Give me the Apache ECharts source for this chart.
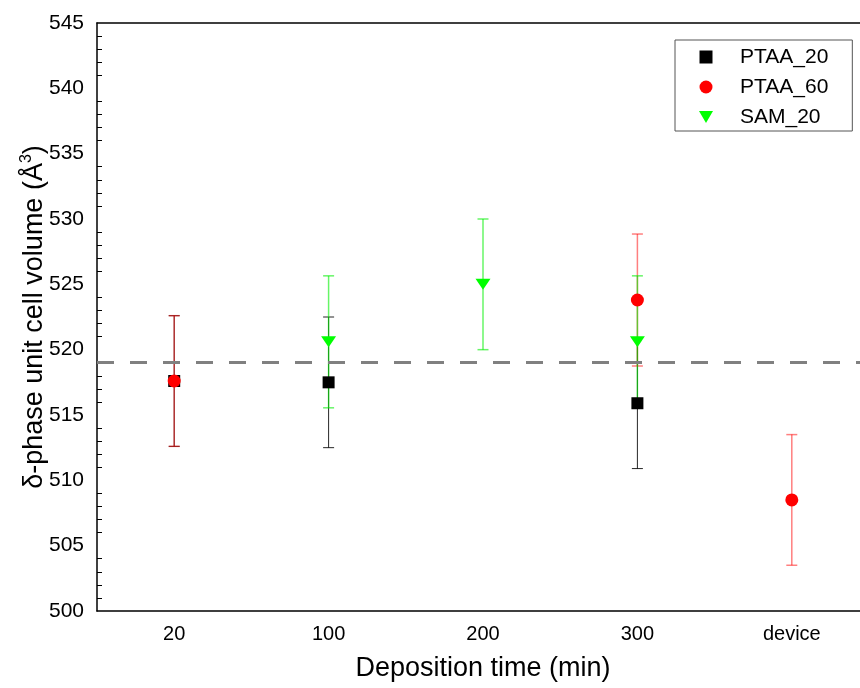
<!DOCTYPE html>
<html>
<head>
<meta charset="utf-8">
<script src="https://cdn.jsdelivr.net/npm/echarts@6/dist/echarts.min.js"></script>
<style>
  html, body { margin: 0; padding: 0; background: #fff; overflow: hidden; }
  #main { width: 880px; height: 688px; }
</style>
</head>
<body>
<div id="main"></div>
<script>
// categories on the x axis
var categories = ['20', '100', '200', '300', 'device'];

// [category, value, error]
var ptaa20 = [['20', 517.6, 5.0], ['100', 517.5, 5.0], ['300', 515.9, 5.0]];
var ptaa60 = [['20', 517.6, 5.0], ['300', 523.8, 5.05], ['device', 508.5, 5.0]];
var sam20 = [['100', 520.6, 5.05], ['200', 525.0, 5.0], ['300', 520.6, 5.05]];

var refLine = 519;

var font = "Arial, 'Liberation Sans', sans-serif";
var square = 'path://M0,0 L10,0 L10,10 L0,10 Z';
var triDown = 'path://M0,0 L20,0 L10,17 Z';

function errBars(data, color, width, opacity) {
  return {
    type: 'custom',
    silent: true,
    data: data.map(function (d) { return [d[0], d[1] - d[2], d[1] + d[2]]; }),
    encode: { x: 0, y: [1, 2] },
    renderItem: function (params, api) {
      var lo = api.coord([api.value(0), api.value(1)]);
      var hi = api.coord([api.value(0), api.value(2)]);
      var cap = 5.5;
      var style = { stroke: color, lineWidth: width, opacity: opacity };
      return {
        type: 'group',
        children: [
          { type: 'line', shape: { x1: lo[0], y1: lo[1], x2: hi[0], y2: hi[1] }, style: style },
          { type: 'line', shape: { x1: lo[0] - cap, y1: lo[1], x2: lo[0] + cap, y2: lo[1] }, style: style },
          { type: 'line', shape: { x1: hi[0] - cap, y1: hi[1], x2: hi[0] + cap, y2: hi[1] }, style: style }
        ]
      };
    }
  };
}

function pts(data) {
  return data.map(function (d) { return [d[0], d[1]]; });
}

var myChart = echarts.init(document.getElementById('main'));
var option = {
  animation: false,
  textStyle: { fontFamily: font },
  grid: { left: 97, top: 23, right: 11, bottom: 77, containLabel: false },
  legend: {
    orient: 'vertical',
    left: 675,
    top: 40,
    padding: [6, 24, 3, 24],
    itemGap: 8,
    itemWidth: 14,
    itemHeight: 13,
    borderColor: '#555',
    borderWidth: 1,
    textStyle: { fontSize: 21, color: '#000', fontFamily: font, lineHeight: 22, padding: [0, 0, 0, 22] },
    data: ['PTAA_20', 'PTAA_60', 'SAM_20']
  },
  xAxis: [{
    type: 'category',
    data: categories,
    boundaryGap: true,
    name: 'Deposition time (min)',
    nameLocation: 'middle',
    nameGap: 44,
    nameTextStyle: { fontSize: 27, color: '#000', fontFamily: font },
    axisLine: { lineStyle: { color: '#000', width: 1.5 } },
    axisTick: { inside: true, alignWithLabel: true, length: 9, lineStyle: { color: '#000', width: 1.5 } },
    axisLabel: { fontSize: 20, color: '#000', margin: 13, fontFamily: font },
    splitLine: { show: false }
  }, {
    type: 'category',
    data: categories,
    position: 'top',
    axisLine: { lineStyle: { color: '#000', width: 1.5 } },
    axisTick: { show: false },
    axisLabel: { show: false },
    splitLine: { show: false }
  }],
  yAxis: {
    type: 'value',
    min: 500,
    max: 545,
    interval: 5,
    name: '{a|δ-phase unit cell volume (Å}{s|3}{a|)}',
    nameLocation: 'middle',
    nameRotate: 90,
    nameGap: 46,
    nameMoveOverlap: false,
    nameTextStyle: {
      fontSize: 27, color: '#000', fontFamily: font,
      rich: {
        a: { fontSize: 27, color: '#000', fontFamily: font, lineHeight: 32 },
        s: { fontSize: 16, color: '#000', fontFamily: font, lineHeight: 20, verticalAlign: 'top' }
      }
    },
    axisLine: { show: true, lineStyle: { color: '#000', width: 1.5 } },
    axisTick: { inside: true, length: 9, lineStyle: { color: '#000', width: 1.5 } },
    minorTick: { show: true, splitNumber: 5, length: 5, lineStyle: { color: '#000', width: 1 } },
    axisLabel: { fontSize: 21, color: '#000', margin: 13, fontFamily: font },
    splitLine: { show: false }
  },
  series: [
    {
      name: 'PTAA_20',
      type: 'scatter',
      symbol: square,
      symbolSize: 12,
      symbolKeepAspect: true,
      itemStyle: { color: '#000', opacity: 1 },
      data: pts(ptaa20),
      markLine: {
        silent: true,
        symbol: 'none',
        label: { show: false },
        lineStyle: { color: '#808080', width: 3, type: [17, 16] },
        data: [{ yAxis: refLine }]
      }
    },
    errBars(ptaa20, '#000', 1, 0.85),
    {
      name: 'PTAA_60',
      type: 'scatter',
      symbol: 'circle',
      symbolSize: 13,
      symbolKeepAspect: true,
      itemStyle: { color: '#ff0000', opacity: 1 },
      data: pts(ptaa60)
    },
    errBars(ptaa60, '#ff0000', 1.5, 0.5),
    {
      name: 'SAM_20',
      type: 'scatter',
      symbol: triDown,
      symbolSize: [15, 13],
      symbolKeepAspect: true,
      itemStyle: { color: '#00ff00', opacity: 1 },
      data: pts(sam20)
    },
    errBars(sam20, '#00ee00', 1.5, 0.6)
  ]
};
myChart.setOption(option);
</script>
</body>
</html>
